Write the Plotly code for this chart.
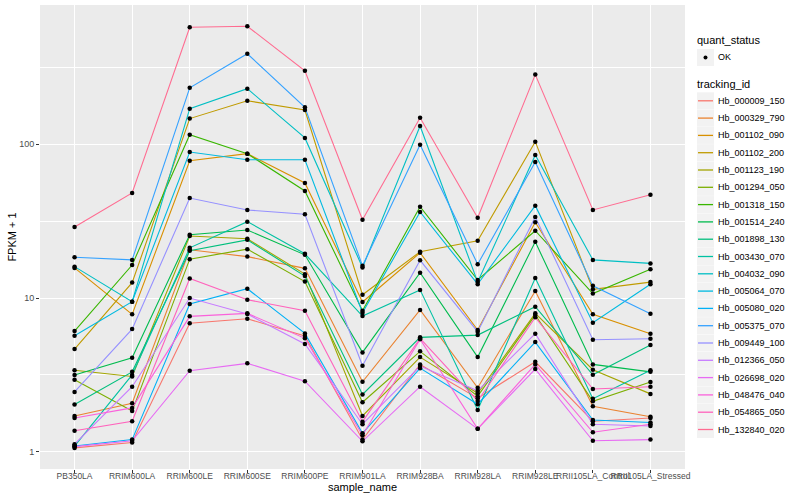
import plotly.graph_objects as go

samples = ["PB350LA", "RRIM600LA", "RRIM600LE", "RRIM600SE", "RRIM600PE", "RRIM901LA",
           "RRIM928BA", "RRIM928LA", "RRIM928LE", "RRII105LA_Control", "RRII105LA_Stressed"]

tracking_ids = ["Hb_000009_150", "Hb_000329_790", "Hb_001102_090", "Hb_001102_200", "Hb_001123_190",
                "Hb_001294_050", "Hb_001318_150", "Hb_001514_240", "Hb_001898_130", "Hb_003430_070",
                "Hb_004032_090", "Hb_005064_070", "Hb_005080_020", "Hb_005375_070", "Hb_009449_100",
                "Hb_012366_050", "Hb_026698_020", "Hb_048476_040", "Hb_054865_050", "Hb_132840_020"]

hb_000009_150 = [1.06, 1.15, 6.85, 7.33, 5.66, 1.20, 3.70, 2.23, 3.85, 1.58, 1.66]
hb_000329_790 = [1.71, 2.07, 20.6, 18.6, 15.6, 2.85, 8.36, 2.61, 11.1, 1.98, 1.69]
hb_001102_090 = [15.7, 7.83, 78.2, 86.9, 56.0, 9.42, 19.7, 6.19, 31.1, 7.83, 5.86]
hb_001102_200 = [4.66, 12.6, 147, 192, 167, 10.5, 20.0, 23.6, 104, 11.4, 12.7]
hb_001123_190 = [3.39, 3.09, 25.3, 24.3, 14.3, 1.71, 4.13, 2.40, 7.95, 3.42, 2.38]
hb_001294_050 = [2.94, 1.84, 17.9, 20.8, 12.8, 2.10, 4.50, 2.30, 7.75, 2.13, 2.84]
hb_001318_150 = [6.10, 16.4, 115.4, 86.9, 49.7, 8.27, 39.3, 13.1, 27.4, 10.7, 15.4]
hb_001514_240 = [3.16, 4.09, 25.8, 27.7, 19.1, 4.43, 14.6, 4.13, 23.2, 3.70, 3.31]
hb_001898_130 = [2.03, 3.31, 20.3, 23.9, 13.9, 2.36, 5.55, 5.74, 8.78, 3.17, 4.95]
hb_003430_070 = [1.09, 3.16, 21.2, 31.4, 19.4, 7.64, 11.3, 1.87, 13.5, 2.21, 3.39]
hb_004032_090 = [16.0, 9.46, 170.6, 230, 110, 15.8, 131.5, 12.7, 85.2, 17.7, 16.8]
hb_005064_070 = [5.69, 9.46, 89.1, 79.4, 79.4, 8.02, 36.3, 12.3, 39.9, 6.91, 12.3]
hb_005080_020 = [1.09, 1.20, 9.14, 11.5, 5.89, 1.32, 3.50, 2.04, 5.17, 1.61, 1.55]
hb_005375_070 = [18.4, 17.7, 233, 388, 174, 16.2, 99.4, 16.6, 76.7, 12.0, 7.9]
hb_009449_100 = [2.45, 6.28, 44.7, 37.4, 35.1, 3.63, 17.6, 6.04, 33.7, 5.35, 5.44]
hb_012366_050 = [1.12, 2.65, 10.0, 7.87, 5.02, 1.51, 3.61, 2.49, 5.86, 1.51, 1.47]
hb_026698_020 = [1.08, 1.18, 3.37, 3.76, 2.88, 1.17, 2.65, 1.41, 3.45, 1.18, 1.20]
hb_048476_040 = [1.66, 1.93, 7.60, 7.95, 5.47, 1.28, 5.39, 1.41, 3.70, 1.34, 1.51]
hb_054865_050 = [1.37, 1.58, 13.4, 9.75, 8.27, 1.57, 5.47, 2.14, 7.49, 2.56, 2.65]
hb_132840_020 = [29.0, 48.3, 577, 586, 301, 32.3, 149, 33.3, 284, 37.4, 47.0]

series = [hb_000009_150, hb_000329_790, hb_001102_090, hb_001102_200, hb_001123_190,
          hb_001294_050, hb_001318_150, hb_001514_240, hb_001898_130, hb_003430_070,
          hb_004032_090, hb_005064_070, hb_005080_020, hb_005375_070, hb_009449_100,
          hb_012366_050, hb_026698_020, hb_048476_040, hb_054865_050, hb_132840_020]

colors = ["#F8766D", "#EA8331", "#D89000", "#C09B00", "#A3A500", "#7CAE00", "#39B600", "#00BB4E",
          "#00BF7D", "#00C1A3", "#00BFC4", "#00BAE0", "#00B0F6", "#35A2FF", "#9590FF", "#C77CFF",
          "#E76BF3", "#FA62DB", "#FF62BC", "#FF6C91"]

FONT = "Liberation Sans, Arial, sans-serif"

# panel geometry in pixels (for the hand-built ggplot-style legend)
W, H = 800, 500
ML, MR, MT, MB = 40, 115, 5, 31
PW, PH = W - ML - MR, H - MT - MB


def px_x(px):
    return (px - ML) / PW


def px_y(py):
    return (H - MB - py) / PH


fig = go.Figure()

for tid, vals, col in zip(tracking_ids, series, colors):
    fig.add_trace(go.Scatter(
        x=samples, y=vals, mode="lines", name=tid,
        line=dict(color=col, width=1.1), showlegend=False,
    ))

for tid, vals in zip(tracking_ids, series):
    fig.add_trace(go.Scatter(
        x=samples, y=vals, mode="markers", name=tid, showlegend=False,
        marker=dict(color="black", size=4.5),
    ))

# ---- legend (ggplot style) ----
shapes = []
annotations = []
key_cx = px_x(705.5)
text_x = px_x(716.5)
title_x = px_x(695.5)

annotations.append(dict(x=title_x, y=px_y(40.5), xref="paper", yref="paper", text="quant_status",
                        showarrow=False, xanchor="left", yanchor="middle",
                        font=dict(size=11, color="black", family=FONT)))
cy = px_y(57.5)
shapes.append(dict(type="rect", xref="paper", yref="paper", xsizemode="pixel", ysizemode="pixel",
                   xanchor=key_cx, yanchor=cy, x0=-8.5, x1=8.5, y0=-8.5, y1=8.5,
                   fillcolor="#F2F2F2", line=dict(width=0)))
shapes.append(dict(type="circle", xref="paper", yref="paper", xsizemode="pixel", ysizemode="pixel",
                   xanchor=key_cx, yanchor=cy, x0=-2, x1=2, y0=-2, y1=2,
                   fillcolor="black", line=dict(width=0)))
annotations.append(dict(x=text_x, y=cy, xref="paper", yref="paper", text="OK", showarrow=False,
                        xanchor="left", yanchor="middle", font=dict(size=9, color="black", family=FONT)))

annotations.append(dict(x=title_x, y=px_y(84), xref="paper", yref="paper", text="tracking_id",
                        showarrow=False, xanchor="left", yanchor="middle",
                        font=dict(size=11, color="black", family=FONT)))
for k, (tid, col) in enumerate(zip(tracking_ids, colors)):
    cy = px_y(100.8 + 17.3 * k)
    shapes.append(dict(type="rect", xref="paper", yref="paper", xsizemode="pixel", ysizemode="pixel",
                       xanchor=key_cx, yanchor=cy, x0=-8.5, x1=8.5, y0=-8.5, y1=8.5,
                       fillcolor="#F2F2F2", line=dict(width=0)))
    shapes.append(dict(type="line", xref="paper", yref="paper", xsizemode="pixel", ysizemode="pixel",
                       xanchor=key_cx, yanchor=cy, x0=-7.5, x1=7.5, y0=0, y1=0,
                       line=dict(color=col, width=1.3)))
    annotations.append(dict(x=text_x, y=cy, xref="paper", yref="paper", text=tid, showarrow=False,
                            xanchor="left", yanchor="middle",
                            font=dict(size=9, color="black", family=FONT)))

fig.update_layout(
    width=W, height=H,
    margin=dict(l=ML, r=MR, t=MT, b=MB, autoexpand=False),
    paper_bgcolor="white",
    plot_bgcolor="#EBEBEB",
    showlegend=False,
    font=dict(family=FONT, size=9, color="#4D4D4D"),
    shapes=shapes,
    annotations=annotations,
    xaxis=dict(
        type="category", range=[-0.6, 10.6],
        showgrid=True, gridcolor="white", gridwidth=1.1,
        ticks="outside", ticklen=3, tickcolor="#333333", tickwidth=1,
        tickangle=0, zeroline=False, showline=False, automargin=False,
        ticklabelstandoff=-4,
        tickfont=dict(size=8.5, color="#4D4D4D"),
        title=dict(text="sample_name", font=dict(size=11, color="black"), standoff=2),
    ),
    yaxis=dict(
        type="log", range=[-0.112, 2.906],
        tickmode="array", tickvals=[1, 10, 100], ticktext=["1", "10", "100"],
        showgrid=True, gridcolor="white", gridwidth=1.1,
        ticks="outside", ticklen=3, tickcolor="#333333", tickwidth=1,
        zeroline=False, showline=False, automargin=False,
        tickfont=dict(size=9, color="#4D4D4D"),
        minor=dict(tickmode="array", tickvals=[10 ** 0.5, 10 ** 1.5, 10 ** 2.5],
                   showgrid=True, gridcolor="white", gridwidth=0.5, ticks=""),
        title=dict(text="FPKM + 1", font=dict(size=11, color="black"), standoff=0),
    ),
)

fig.write_html(
    "out.html",
    config={"displayModeBar": False},
    post_script="document.body.style.margin='0';document.body.style.overflow='hidden';",
)
